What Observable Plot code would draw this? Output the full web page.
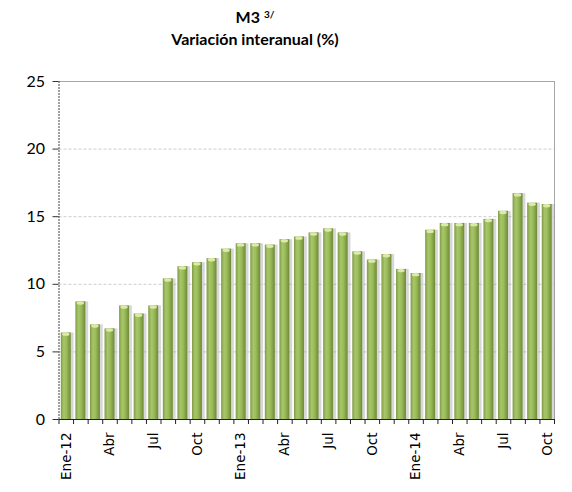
<!DOCTYPE html>
<html><head><meta charset="utf-8">
<script src="https://cdn.jsdelivr.net/npm/d3@7"></script>
<script src="https://cdn.jsdelivr.net/npm/@observablehq/plot@0.6"></script>
<style>
body{margin:0;background:#fff;}
#wrap{position:relative;width:572px;height:492px;overflow:hidden;}
#chart{position:absolute;left:0;top:0;}
#title{position:absolute;left:0;top:6px;width:510px;text-align:center;font-family:Lato,"Open Sans",sans-serif;font-weight:bold;font-size:16px;line-height:22px;color:#000;}
#title sup{font-size:10px;vertical-align:top;position:relative;top:-3px;}
</style></head><body>
<div id="wrap"><div id="chart"></div><div id="title">M3 <sup>3/</sup><br>Variación interanual (%)</div></div>
<script>
const months = ["Ene-12","Feb-12","Mar-12","Abr-12","May-12","Jun-12","Jul-12","Ago-12","Sep-12","Oct-12","Nov-12","Dic-12",
  "Ene-13","Feb-13","Mar-13","Abr-13","May-13","Jun-13","Jul-13","Ago-13","Sep-13","Oct-13","Nov-13","Dic-13",
  "Ene-14","Feb-14","Mar-14","Abr-14","May-14","Jun-14","Jul-14","Ago-14","Sep-14","Oct-14"];
const values = [6.4,8.7,7.0,6.7,8.4,7.8,8.4,10.4,11.3,11.6,11.9,12.6,
  13.0,13.0,12.9,13.3,13.5,13.8,14.1,13.8,12.4,11.8,12.2,11.1,
  10.8,14.0,14.5,14.5,14.5,14.8,15.4,16.7,16.0,15.9];
const tickLabels = ["Ene-12","Abr","Jul","Oct","Ene-13","Abr","Jul","Oct","Ene-14","Abr","Jul","Oct"];
const tickIndex = [0,3,6,9,12,15,18,21,24,27,30,33];
const yTicks = [0,5,10,15,20,25];
const gridTicks = [5,10,15,20];

const data = months.map((m, i) => ({i, m, v: values[i]}));
const labelPos = tickIndex.map(i => i + 0.5);
const labelMap = new Map(labelPos.map((p, k) => [p, tickLabels[k]]));
const n = months.length;

const svg = Plot.plot({
  width: 572, height: 492,
  marginLeft: 58.5, marginRight: 18, marginTop: 81, marginBottom: 73,
  style: {fontFamily: "'DejaVu Sans', sans-serif", fontSize: "13px", color: "#000", background: "#fff"},
  x: {domain: [0, n], axis: null},
  y: {domain: [0, 25], axis: null},
  marks: [
    Plot.ruleY(gridTicks, {stroke: "#cccccc", strokeDasharray: "3,2"}),
    Plot.ruleY([25], {stroke: "#a6a6a6"}),
    Plot.ruleX([n], {y1: 0, y2: 25, stroke: "#a6a6a6"}),
    Plot.rectY(data, {x1: d => d.i, x2: d => d.i + 1, y: "v", insetLeft: 3.5, insetRight: 1, dx: 1.5, fill: "#8c8c8c", fillOpacity: 0.35}),
    Plot.rectY(data, {x1: d => d.i, x2: d => d.i + 1, y: "v", insetLeft: 2.3, insetRight: 2.3, fill: "url(#barGrad)"}),
    Plot.rect(data, {x1: d => d.i, x2: d => d.i + 1, y1: d => d.v - 0.25, y2: d => d.v, insetLeft: 3.6, insetRight: 3.6, fill: "#dbeaa6", rx: 3}),
    Plot.ruleX([0], {y1: 0, y2: 25, stroke: "#444", strokeDasharray: "2,1"}),
    Plot.ruleY([0], {stroke: "#222"}),
    Plot.axisY({ticks: yTicks, tickSize: 6, tickPadding: 8, fontSize: 16, fontFamily: "Lato, sans-serif", label: null, stroke: "#333"}),
    Plot.axisX({ticks: d3.range(n + 1), tickSize: 5, tickFormat: () => "", label: null, stroke: "#222"}),
    Plot.axisX({ticks: labelPos, tickSize: 0, tickPadding: 13, tickRotate: -90, tickFormat: d => labelMap.get(d), label: null, fontSize: 13.5})
  ]
});

const ns = "http://www.w3.org/2000/svg";
const defs = document.createElementNS(ns, "defs");
const grad = document.createElementNS(ns, "linearGradient");
grad.setAttribute("id", "barGrad");
grad.setAttribute("x1", "0"); grad.setAttribute("x2", "1");
grad.setAttribute("y1", "0"); grad.setAttribute("y2", "0");
[["0", "#7f9c46"], ["0.3", "#a6c66a"], ["0.55", "#9dbd5b"], ["1", "#6d8a36"]].forEach(([o, c]) => {
  const s = document.createElementNS(ns, "stop");
  s.setAttribute("offset", o); s.setAttribute("stop-color", c);
  grad.appendChild(s);
});
defs.appendChild(grad);
svg.insertBefore(defs, svg.firstChild);
document.getElementById("chart").appendChild(svg);
</script>
</body></html>
